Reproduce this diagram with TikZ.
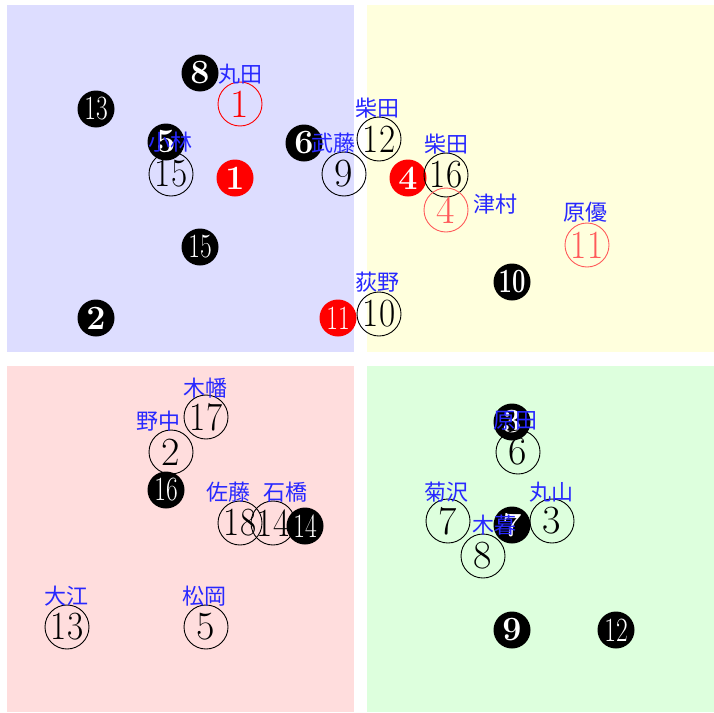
\documentclass[tikz,border=0pt]{standalone}
\usepackage{fontspec}
\usepackage{graphicx}
\newfontfamily\jpfont{Noto Sans CJK JP}
\definecolor{qblue}{RGB}{221,221,255}
\definecolor{qyellow}{RGB}{255,255,221}
\definecolor{qpink}{RGB}{255,221,221}
\definecolor{qgreen}{RGB}{221,255,221}
\definecolor{lblue}{RGB}{40,40,255}
\definecolor{lred}{RGB}{255,90,90}
\newcommand\opnum[1]{\scalebox{0.88}[1]{#1}}
\newcommand\blknum[1]{{\mdseries\fontsize{34}{34}\selectfont\scalebox{0.75}[1]{#1}}}
\newcommand\blkbnum[1]{\scalebox{0.7}[1]{#1}}
\begin{document}
\begin{tikzpicture}[x=1pt,y=-1pt,
  opn/.style={circle,draw=black,line width=0.9pt,minimum size=44pt,inner sep=0pt,font=\fontsize{40}{40}\selectfont},
  opnred/.style={opn,draw=red,text=red},
  opnlred/.style={opn,draw=lred,text=lred},
  blk/.style={circle,fill=black,minimum size=37pt,inner sep=0pt,text=white,font=\fontsize{34}{34}\selectfont\bfseries},
  blkred/.style={blk,fill=red},
  lbl/.style={inner sep=0pt,text=lblue,font=\jpfont\fontsize{22}{22}\selectfont}]
\useasboundingbox (0,0) rectangle (714,712);
% quadrants
\fill[qblue] (7,5) rectangle (354,352);
\fill[qyellow] (367,5) rectangle (714,352);
\fill[qpink] (7,366) rectangle (354,712);
\fill[qgreen] (367,366) rectangle (714,712);
% filled circles
\node[blk] (b8) at (200,73) {8};
\node[blk] (b13) at (96,109) {\blknum{13}};
\node[blk] (b5) at (166,142) {5};
\node[blkred] (r1) at (235,178) {1};
\node[blk] (b6) at (304,143) {6};
\node[blkred] (r4) at (408,178) {4};
\node[blk] (b15) at (200,247) {\blknum{15}};
\node[blk] (b2) at (96,318) {2};
\node[blkred] (r11) at (338,318) {\blknum{11}};
\node[blk] (b10) at (512,282) {\blkbnum{10}};
\node[blk] (b16) at (166,490) {\blknum{16}};
\node[blk] (b3) at (512,422) {3};
\node[blk] (b7) at (512,525) {7};
\node[blk] (b9) at (512,630) {9};
\node[blk] (b12) at (616,630) {\blknum{12}};
% open circles
\node[opnred] (o1) at (240,104) {1};
\node[opn] (o15) at (171,174) {\opnum{15}};
\node[opn] (o9) at (344,174) {9};
\node[opn] (o12) at (379,139) {\opnum{12}};
\node[opn] (o16) at (446,175) {\opnum{16}};
\node[opnlred] (o4) at (446,210) {4};
\node[opnlred] (o11) at (587,245) {\opnum{11}};
\node[opn] (o10) at (379,314) {\opnum{10}};
\node[opn] (o17) at (206,417) {\opnum{17}};
\node[opn] (o2) at (171,452) {2};
\node[opn] (o18) at (240,523) {\opnum{18}};
\node[opn] (o14) at (273,523) {\opnum{14}};
\node[blk] (b14) at (305,526) {\blknum{14}};
\node[opn] (o13) at (67,627) {\opnum{13}};
\node[opn] (o5) at (206,627) {5};
\node[opn] (o6) at (518,452) {6};
\node[opn] (o7) at (448,521) {7};
\node[opn] (o3) at (552,521) {3};
\node[opn] (o8) at (483,556) {8};
% labels
\node[lbl] (l1) at (240,74) {丸田};
\node[lbl] (l2) at (170,142) {小林};
\node[lbl] (l3) at (333,143) {武藤};
\node[lbl] (l4) at (377,108) {柴田};
\node[lbl] (l5) at (446,144) {柴田};
\node[lbl] (l6) at (495,204) {津村};
\node[lbl] (l7) at (585,212) {原優};
\node[lbl] (l8) at (377,282) {荻野};
\node[lbl] (l9) at (205,388) {木幡};
\node[lbl] (l10) at (158,421) {野中};
\node[lbl] (l11) at (228,492) {佐藤};
\node[lbl] (l12) at (285,492) {石橋};
\node[lbl] (l13) at (66,596) {大江};
\node[lbl] (l14) at (204,596) {松岡};
\node[lbl] (l15) at (515,421) {原田};
\node[lbl] (l16) at (446,492) {菊沢};
\node[lbl] (l17) at (551,492) {丸山};
\node[lbl] (l18) at (494,525) {木暮};
\end{tikzpicture}
\end{document}
